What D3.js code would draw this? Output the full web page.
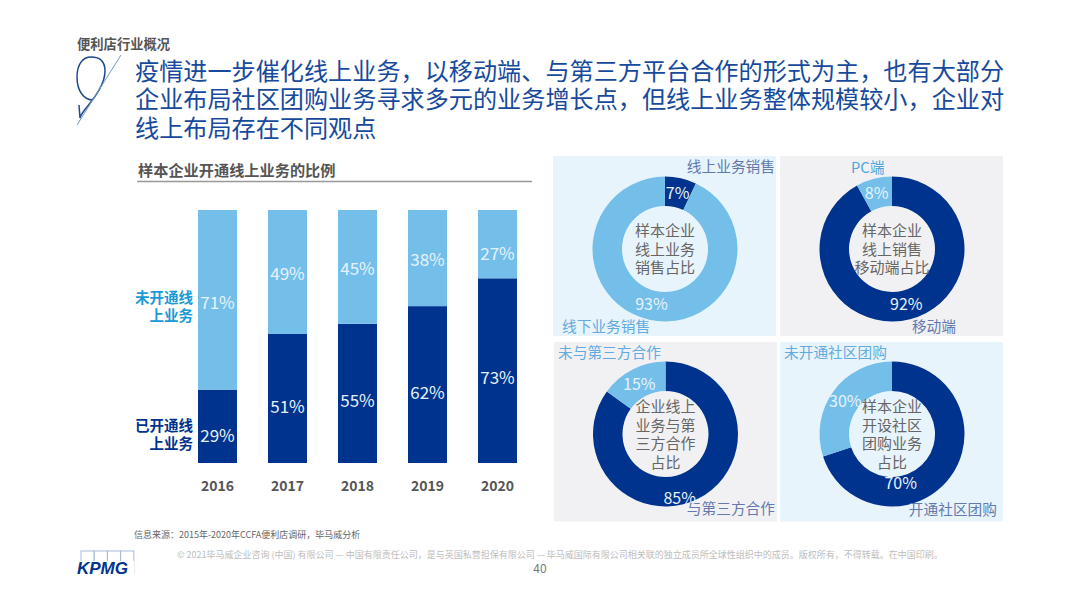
<!DOCTYPE html>
<html><head><meta charset="utf-8">
<script src="https://cdnjs.cloudflare.com/ajax/libs/d3/7.8.5/d3.min.js"></script>
<style>html,body{margin:0;padding:0;background:#fff}svg{display:block}
text{font-family:"Noto Sans CJK SC","Noto Sans",sans-serif}</style></head><body>
<svg id="c" width="1080" height="608"></svg>
<script>
const years = ["2016","2017","2018","2019","2020"];
const onlineShare = [29,51,55,62,73];
const offlineShare = [71,49,45,38,27];
const donutSalesMix = [7,93];
const donutDeviceMix = [92,8];
const donutPartnerMix = [85,15];
const donutGroupBuyMix = [70,30];
const titleLines = ["疫情进一步催化线上业务，以移动端、与第三方平台合作的形式为主，也有大部分","企业布局社区团购业务寻求多元的业务增长点，但线上业务整体规模较小，企业对","线上布局存在不同观点"];

const DARK="#00338d", LIGHT="#74bfea", svg=d3.select("#c");
const T=(x,y,s,size,fill,o={})=>svg.append("text").attr("x",x).attr("y",y).attr("font-size",size).attr("fill",fill)
  .attr("font-weight",o.w||400).attr("text-anchor",o.a||"start").text(s);

// header
T(77,49,"便利店行业概况",13.3,"#555",{w:700});
titleLines.forEach((l,i)=>T(135,[79.5,107.5,136.5][i],l,24.15,"#174a9c"));
svg.append("path").attr("d","M91 57C83 57 77 64 77 77C77 91 84 100 93 100M91 57C100 57 105 62 105 71C105 84 95 97 87 107C84 111 81 114 80 118L79 105")
  .attr("fill","none").attr("stroke","#1c4a8c").attr("stroke-width",1.5);
svg.append("line").attr("x1",121).attr("y1",55).attr("x2",77).attr("y2",125).attr("stroke","#6f9cc4").attr("stroke-width",1);

// stacked bars
T(138,176,"样本企业开通线上业务的比例",15.2,"#555",{w:700});
svg.append("line").attr("x1",137).attr("x2",532).attr("y1",181.5).attr("y2",181.5).attr("stroke","#999").attr("stroke-width",1.5);
const x=d3.scaleBand().domain(years).range([182.5,532.5]).paddingInner(31/70).paddingOuter(15.5/70);
const y=d3.scaleLinear().domain([0,100]).range([463,210]);
const rows=years.map((k,i)=>({k,on:onlineShare[i],off:offlineShare[i]}));
const stack=d3.stack().keys(["on","off"])(rows);
const lightNudge=[3,2,2,2,10], darkNudge=[10,9,8,8,7];
svg.append("g").selectAll("g").data(stack).join("g").attr("fill",(d,i)=>i?LIGHT:DARK)
  .selectAll("rect").data(d=>d).join("rect")
  .attr("x",d=>x(d.data.k)).attr("width",x.bandwidth()).attr("y",d=>y(d[1])).attr("height",d=>y(d[0])-y(d[1]));
stack.forEach((s,si)=>s.forEach((d,i)=>{
  const cy=(y(d[0])+y(d[1]))/2+(si?lightNudge:darkNudge)[i]+6;
  T(x(d.data.k)+x.bandwidth()/2,cy,(d[1]-d[0])+"%",17,"#e6f2fb",{a:"middle"});
}));
const ax=svg.append("g").attr("transform","translate(0,463)").call(d3.axisBottom(x).tickSize(0).tickPadding(18));
ax.select(".domain").remove();
ax.selectAll("text").attr("font-size",14).attr("font-weight",700).attr("fill","#555").attr("font-family",'"Noto Sans","Noto Sans CJK SC",sans-serif');
T(193,303,"未开通线",14.5,"#1a9ad6",{w:700,a:"end"});
T(193,321,"上业务",14.5,"#1a9ad6",{w:700,a:"end"});
T(193,431,"已开通线",14.5,DARK,{w:700,a:"end"});
T(193,449,"上业务",14.5,DARK,{w:700,a:"end"});

// donuts
const panels=[
 {px:553,py:156,bg:"#e8f4fc",cx:665,cy:249,v:donutSalesMix,c:[DARK,LIGHT],
  mid:["样本企业","线上业务","销售占比"],my:236,
  labs:[["线上业务销售",775,172,"#6478ad","end"],["线下业务销售",562,332,"#62aadf","start"]],nudge:[[0,0],[-1,-1]]},
 {px:780,py:156,bg:"#f1f1f4",cx:892,cy:249,v:donutDeviceMix,c:[DARK,LIGHT],
  mid:["样本企业","线上销售","移动端占比"],my:236,
  labs:[["PC端",851,173,"#4fa5dc","start"],["移动端",956,332,"#6478ad","end"]],nudge:[[0,-1],[-1,0]]},
 {px:554,py:342,bg:"#f1f1f4",cx:665.5,cy:434,v:donutPartnerMix,c:[DARK,LIGHT],
  mid:["企业线上","业务与第","三方合作","占比"],my:412,
  labs:[["未与第三方合作",558,358,"#62aadf","start"],["与第三方合作",775,514,"#6478ad","end"]],nudge:[[-12,13],[0,1]]},
 {px:780,py:342,bg:"#e8f4fc",cx:892,cy:434,v:donutGroupBuyMix,c:[DARK,LIGHT],
  mid:["样本企业","开设社区","团购业务","占比"],my:412,
  labs:[["未开通社区团购",784,358,"#62aadf","start"],["开通社区团购",997,515,"#6478ad","end"]],nudge:[[-38,15],[0,1]]}
];
const arc=d3.arc().innerRadius(43).outerRadius(72.5);
panels.forEach(p=>{
  svg.append("rect").attr("x",p.px).attr("y",p.py).attr("width",223).attr("height",p.py<300?180:179.5).attr("fill",p.bg);
  const arcs=d3.pie().sort(null)(p.v);
  const g=svg.append("g").attr("transform",`translate(${p.cx},${p.cy})`);
  g.selectAll("path").data(arcs).join("path").attr("d",arc).attr("fill",(d,i)=>p.c[i]);
  p.mid.forEach((l,i)=>T(p.cx,p.my+i*18.5,l,15,"#666",{a:"middle"}));
  p.labs.forEach(l=>T(l[1],l[2],l[0],14.7,l[3],{a:l[4]}));
  arcs.forEach((d,i)=>{
    const c=arc.centroid(d);
    T(p.cx+c[0]+p.nudge[i][0],p.cy+c[1]+p.nudge[i][1]+6,d.value+"%",16,"#e6f2fb",{a:"middle"});
  });
});

// footer
T(134,538,"信息来源：2015年-2020年CCFA便利店调研，毕马威分析",9,"#666");
T(177,558,"© 2021毕马威企业咨询 (中国) 有限公司 — 中国有限责任公司，是与英国私营担保有限公司 — 毕马威国际有限公司相关联的独立成员所全球性组织中的成员。版权所有，不得转载。在中国印刷。",9,"#bdbdbd");
T(540,573,"40",12,"#777",{a:"middle"});
[0,1,2,3].forEach(i=>svg.append("rect").attr("x",81+i*13.2).attr("y",551).attr("width",13.2).attr("height",22).attr("fill","none").attr("stroke","#a9bcd8").attr("stroke-width",1));
svg.append("rect").attr("x",76).attr("y",561).attr("width",58).attr("height",13).attr("fill","#fff");
svg.append("text").attr("x",77).attr("y",574).attr("font-size",17).attr("font-weight",700).attr("font-style","italic").attr("fill",DARK).attr("style",'font-family:"Liberation Sans"').text("KPMG");
</script></body></html>
